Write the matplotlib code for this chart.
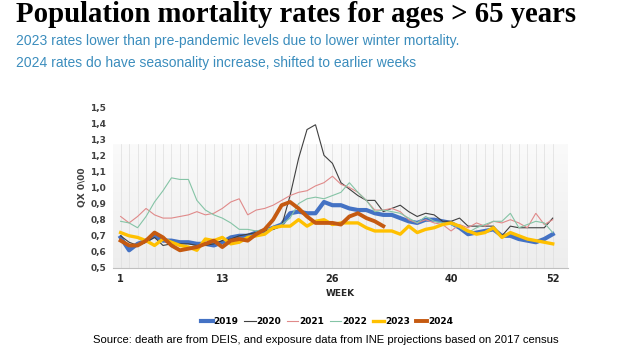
import numpy as np
import matplotlib
matplotlib.use("Agg")
import matplotlib.pyplot as plt

weeks = list(range(1, 53))
x_ticks = [1, 13, 26, 40, 52]
y_ticks = [0.5, 0.6, 0.7, 0.8, 0.9, 1.0, 1.1, 1.2, 1.3, 1.4, 1.5]

qx_2019 = [0.69, 0.61, 0.65, 0.67, 0.70, 0.67, 0.67, 0.66, 0.66, 0.65, 0.65, 0.64, 0.66,
           0.69, 0.70, 0.70, 0.72, 0.73, 0.75, 0.77, 0.84, 0.85, 0.84, 0.84, 0.91, 0.89,
           0.89, 0.87, 0.86, 0.86, 0.84, 0.83, 0.83, 0.81, 0.79, 0.78, 0.80, 0.80, 0.79,
           0.78, 0.75, 0.71, 0.72, 0.73, 0.74, 0.70, 0.70, 0.68, 0.67, 0.66, 0.68, 0.71]
qx_2020 = [0.70, 0.66, 0.64, 0.66, 0.69, 0.64, 0.65, 0.65, 0.65, 0.64, 0.64, 0.65, 0.67,
           0.68, 0.70, 0.71, 0.72, 0.73, 0.74, 0.76, 0.95, 1.18, 1.36, 1.39, 1.20, 1.15,
           1.03, 0.99, 0.95, 0.92, 0.92, 0.85, 0.87, 0.89, 0.85, 0.82, 0.84, 0.83, 0.79,
           0.79, 0.81, 0.76, 0.76, 0.76, 0.76, 0.70, 0.76, 0.75, 0.75, 0.75, 0.75, 0.81]
qx_2021 = [0.82, 0.78, 0.82, 0.87, 0.83, 0.81, 0.81, 0.82, 0.83, 0.85, 0.83, 0.84, 0.87,
           0.91, 0.93, 0.83, 0.86, 0.87, 0.89, 0.92, 0.95, 0.97, 0.98, 1.01, 1.03, 1.07,
           1.02, 1.00, 0.97, 0.92, 0.86, 0.86, 0.87, 0.85, 0.80, 0.78, 0.80, 0.78, 0.77,
           0.73, 0.77, 0.75, 0.78, 0.76, 0.79, 0.78, 0.80, 0.78, 0.75, 0.84, 0.77, 0.80]
qx_2022 = [0.79, 0.78, 0.75, 0.82, 0.91, 0.98, 1.06, 1.05, 1.05, 0.92, 0.86, 0.83, 0.81,
           0.78, 0.74, 0.74, 0.73, 0.74, 0.75, 0.77, 0.81, 0.90, 0.93, 0.94, 0.93, 0.95,
           0.97, 1.03, 0.97, 0.92, 0.85, 0.86, 0.85, 0.84, 0.81, 0.78, 0.82, 0.79, 0.78,
           0.77, 0.75, 0.72, 0.75, 0.77, 0.79, 0.79, 0.84, 0.75, 0.77, 0.79, 0.78, 0.72]
qx_2023 = [0.72, 0.70, 0.69, 0.67, 0.64, 0.68, 0.66, 0.64, 0.63, 0.61, 0.68, 0.67, 0.69,
           0.65, 0.66, 0.69, 0.70, 0.71, 0.75, 0.76, 0.76, 0.80, 0.76, 0.79, 0.80, 0.77,
           0.78, 0.78, 0.78, 0.75, 0.73, 0.73, 0.73, 0.71, 0.76, 0.72, 0.74, 0.75, 0.77,
           0.78, 0.76, 0.73, 0.71, 0.72, 0.75, 0.69, 0.72, 0.70, 0.68, 0.67, 0.66, 0.65]
qx_2024 = [0.67, 0.64, 0.64, 0.67, 0.72, 0.69, 0.64, 0.61, 0.62, 0.63, 0.65, 0.67, 0.63,
           0.67, 0.68, 0.67, 0.71, 0.74, 0.80, 0.89, 0.91, 0.87, 0.82, 0.78, 0.78, 0.78,
           0.77, 0.82, 0.84, 0.81, 0.79, 0.76]

series = [
    ("2019", qx_2019, "#4472C4", 3.0),
    ("2020", qx_2020, "#404040", 0.8),
    ("2021", qx_2021, "#E08A8A", 0.8),
    ("2022", qx_2022, "#85C4A6", 0.8),
    ("2023", qx_2023, "#FFC000", 2.4),
    ("2024", qx_2024, "#C55A11", 2.8),
]

title = "Population mortality rates for ages > 65 years"
sub1 = "2023 rates lower than pre-pandemic levels due to lower winter mortality."
sub2 = "2024 rates do have seasonality increase, shifted to earlier weeks"
source = "Source: death are from DEIS, and exposure data from INE projections based on 2017 census"

W, H = 618, 353
fig = plt.figure(figsize=(W / 100, H / 100), dpi=100)
fig.patch.set_facecolor("white")

ax = fig.add_axes([113 / W, 85 / H, 455 / W, 161 / H])
ax.set_xlim(0.1, 53.8)
ax.set_ylim(0.5, 1.5)

# gradient background
grad = np.linspace(0, 1, 100).reshape(-1, 1)
c_bot = np.array([237, 237, 237]) / 255
c_top = np.array([250, 250, 250]) / 255
img = c_bot + (c_top - c_bot) * grad[..., None]
img = img.reshape(100, 1, 3)
ax.imshow(img, extent=(0.1, 53.8, 0.5, 1.27), origin="lower", aspect="auto", zorder=0)
for w in weeks:
    ax.plot([w, w], [0.5, 1.27], color="#dedede", lw=0.5, zorder=1)

handles = []
for name, vals, col, lw in series:
    h, = ax.plot(weeks[:len(vals)], vals, color=col, lw=lw, label=name, zorder=3,
                 solid_joinstyle="miter" if lw < 1 else "round")
    handles.append(h)

for s in ["top", "right", "left"]:
    ax.spines[s].set_visible(False)
ax.spines["bottom"].set_color("#bfbfbf")
ax.spines["bottom"].set_linewidth(0.8)
ax.set_xticks(x_ticks)
ax.set_xticklabels([str(t) for t in x_ticks], fontsize=7, fontweight="bold", color="#262626")
ax.set_yticks(y_ticks)
ax.set_yticklabels([f"{t:.1f}".replace(".", ",") for t in y_ticks], fontsize=6.5,
                   fontweight="bold", color="#404040")
ax.tick_params(axis="both", length=0)
ax.tick_params(axis="y", pad=5)
ax.tick_params(axis="x", pad=4)
ax.set_xlabel("WEEK", fontsize=6.5, fontweight="bold", color="#262626", labelpad=4)
ax.set_ylabel("QX 0\\00", fontsize=6.5, fontweight="bold", color="#404040", labelpad=2)

fig.canvas.draw()
renderer = fig.canvas.get_renderer()

def fit_text(xpx, ypx, s, target_w, fs0, **kw):
    t = fig.text(xpx / W, 1 - ypx / H, s, fontsize=fs0, va="center", ha="left", **kw)
    wpx = t.get_window_extent(renderer).width
    t.set_fontsize(fs0 * target_w / wpx)
    return t

fit_text(16, 15, title, 562, 17, family="Liberation Serif", fontweight="bold", color="black")
fit_text(16, 41, sub1, 442, 10, family="Liberation Sans", color="#3B8DBD")
fit_text(16, 63, sub2, 401, 10, family="Liberation Sans", color="#3B8DBD")
fit_text(93, 340, source, 462, 7.5, family="Liberation Sans", color="black")

fig.legend(handles=handles, loc="center", bbox_to_anchor=(327 / W, 1 - 322 / H), ncol=6,
           frameon=False, prop={"size": 6.5, "weight": "bold"}, handlelength=1.3,
           handletextpad=0.1, columnspacing=0.6, borderaxespad=0)

fig.savefig("out.png", dpi=100, facecolor="white")
